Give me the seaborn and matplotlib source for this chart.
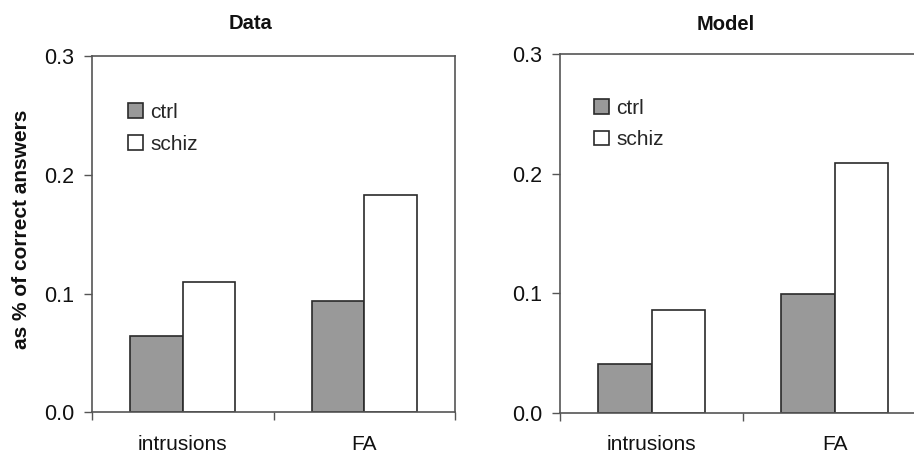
import matplotlib
matplotlib.use("Agg")
import matplotlib.pyplot as plt
import seaborn as sns
import pandas as pd
from matplotlib.ticker import FixedLocator

categories = ["intrusions", "FA"]
groups = ["ctrl", "schiz"]
data_ctrl = [0.064, 0.094]
data_schiz = [0.110, 0.183]
model_ctrl = [0.041, 0.0995]
model_schiz = [0.086, 0.209]
panel_titles = ["Data", "Model"]
ytick_vals = [0.0, 0.1, 0.2, 0.3]
ytick_labels = ["0.0", "0.1", "0.2", "0.3"]
ylabel = "as % of correct answers"

sns.set_theme(style="white")
plt.rcParams["font.family"] = ["Liberation Sans", "DejaVu Sans"]

def make_df(ctrl, schiz):
    rows = []
    for c, v in zip(categories, ctrl):
        rows.append({"cond": c, "group": "ctrl", "val": v})
    for c, v in zip(categories, schiz):
        rows.append({"cond": c, "group": "schiz", "val": v})
    return pd.DataFrame(rows)

dfs = [make_df(data_ctrl, data_schiz), make_df(model_ctrl, model_schiz)]

fig = plt.figure(figsize=(9.14, 4.55), dpi=100)
ax1 = fig.add_axes([92/914, (455-412.3)/455, 363/914, 356.3/455])
ax2 = fig.add_axes([560/914, (455-412.7)/455, 366/914, 358.4/455])
axes = [ax1, ax2]
title_x = [0.438, 0.454]
title_y = [1.09, 1.083]
leg_anchor = [(0.099, 0.868), (0.093, 0.876)]
edge = "#2a2a2a"
palette = {"ctrl": "#999999", "schiz": "#ffffff"}

for i, ax in enumerate(axes):
    sns.barplot(data=dfs[i], x="cond", y="val", hue="group", hue_order=groups,
                order=categories, palette=palette, edgecolor=edge, linewidth=1.2,
                width=0.58, saturation=1, ax=ax, errorbar=None)
    ax.set_xlim(-0.5, 1.5)
    ax.set_ylim(0, 0.3)
    ax.set_yticks(ytick_vals)
    ax.set_yticklabels(ytick_labels, fontsize=15.5)
    ax.tick_params(axis="y", which="major", direction="out", length=6, width=1,
                   color="#555555", pad=7, left=True, labelcolor="#111111")
    ax.xaxis.set_minor_locator(FixedLocator([-0.5, 0.5, 1.5]))
    ax.tick_params(axis="x", which="major", length=0, pad=16, labelsize=15,
                   labelcolor="#111111")
    ax.tick_params(axis="x", which="minor", direction="out", length=6, width=1,
                   color="#555555", bottom=True)
    for s in ax.spines.values():
        s.set_visible(True)
        s.set_color("#555555")
        s.set_linewidth(1.2)
    ax.set_xlabel("")
    ax.set_ylabel("")
    ax.text(title_x[i], title_y[i], panel_titles[i], transform=ax.transAxes,
            ha="center", va="center", fontsize=14.5, fontweight="bold", color="#111111")
    h, l = ax.get_legend_handles_labels()
    ax.legend(h, l, loc="upper left", bbox_to_anchor=leg_anchor[i], frameon=False,
              fontsize=15, handlelength=0.72, handleheight=0.72, handletextpad=0.35,
              labelspacing=0.6, borderpad=0, borderaxespad=0)

ax1.set_ylabel(ylabel, fontsize=15, fontweight="bold", color="#111111")
ax1.yaxis.set_label_coords(-0.167, 0.513)

fig.savefig("out.png", dpi=100)
